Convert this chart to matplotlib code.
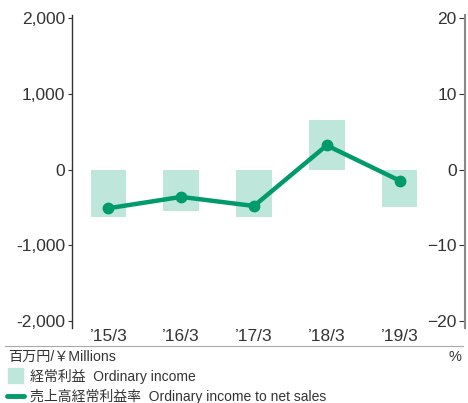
import matplotlib
matplotlib.use('Agg')
import matplotlib.pyplot as plt
from matplotlib.lines import Line2D
from matplotlib.patches import Rectangle

# data
years = ['\u201915/3', '\u201916/3', '\u201917/3', '\u201918/3', '\u201919/3']
ordinary_income = [-630, -550, -630, 650, -500]       # million yen
income_ratio = [-5.1, -3.6, -4.8, 3.2, -1.45]         # %

bar_color = '#bfe6da'
line_color = '#009a6b'
text_color = '#333333'

plt.rcParams['font.family'] = ['Liberation Sans', 'Noto Sans CJK JP', 'DejaVu Sans']
plt.rcParams['font.size'] = 11

fig = plt.figure(figsize=(4.68, 4.03), dpi=100)
ax = fig.add_axes([72 / 468, 1 - 328 / 403, (465 - 72) / 468, (328 - 15) / 403])

x = range(len(years))
ax.bar(x, ordinary_income, width=0.49, color=bar_color, zorder=1)
ax.set_xlim(-0.5, 4.9)
ax.set_ylim(-2090, 2040)
ax.set_yticks([-2000, -1000, 0, 1000, 2000])
ax.set_yticklabels(['-2,000', '-1,000', '0', '1,000', '2,000'])
ax.set_xticks(list(x))
ax.set_xticklabels(years)
ax.tick_params(axis='x', length=0, pad=1, colors=text_color, labelsize=12.5)
ax.tick_params(axis='y', length=3, width=0.8, direction='out', pad=2,
               colors=text_color, labelsize=12.5)
for s in ['top', 'bottom', 'right']:
    ax.spines[s].set_visible(False)
ax.spines['left'].set_color(text_color)
ax.spines['left'].set_linewidth(1)

ax2 = ax.twinx()
ax2.plot(x, income_ratio, color=line_color, lw=3.2, marker='o', ms=7.5,
         solid_capstyle='round', zorder=3)
ax2.set_ylim(-20.9, 20.4)
ax2.set_yticks([-20, -10, 0, 10, 20])
ax2.tick_params(axis='y', length=4, width=0.8, direction='in', pad=-6,
                colors=text_color, labelsize=12.5, labelleft=False, labelright=True)
for lbl in ax2.get_yticklabels():
    lbl.set_horizontalalignment('right')
for s in ['top', 'bottom', 'left']:
    ax2.spines[s].set_visible(False)
ax2.spines['right'].set_color('#888888')
ax2.spines['right'].set_linewidth(1.5)

# separator line under the year labels
fig.add_artist(Line2D([5 / 468, 463 / 468], [1 - 346 / 403] * 2,
                      color='#aaaaaa', lw=0.8))

fig.text(8 / 468, 1 - 357 / 403, '百万円/￥Millions', ha='left', va='center',
         color=text_color, fontsize=10.2)
fig.text(461 / 468, 1 - 357 / 403, '%', ha='right', va='center',
         color=text_color, fontsize=10.5)

fig.add_artist(Rectangle((8 / 468, 1 - 383 / 403), 15 / 468, 15 / 403,
                         color=bar_color, transform=fig.transFigure))
fig.text(30 / 468, 1 - 377 / 403, '経常利益  Ordinary income', ha='left', va='center',
         color=text_color, fontsize=10)

fig.add_artist(Line2D([7 / 468, 24 / 468], [1 - 396 / 403] * 2, color=line_color,
                      lw=3.5, solid_capstyle='round'))
fig.text(30 / 468, 1 - 396 / 403, '売上高経常利益率  Ordinary income to net sales',
         ha='left', va='center', color=text_color, fontsize=10)

fig.savefig('out.png', dpi=100)
